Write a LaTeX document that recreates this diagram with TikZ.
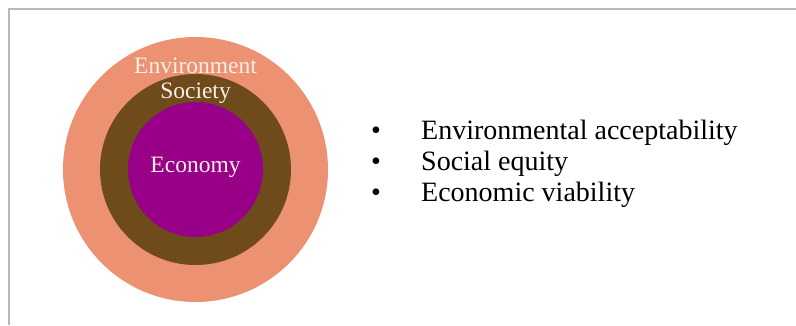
\documentclass[tikz,border=0pt]{standalone}
\usepackage{fontspec}
\setmainfont{Liberation Serif}
\definecolor{envc}{HTML}{EC9172}
\definecolor{socc}{HTML}{6F4A1A}
\definecolor{ecoc}{HTML}{980087}
\definecolor{labc}{HTML}{F8F0E6}
\definecolor{framec}{HTML}{B8B8B8}
\begin{document}
\begin{tikzpicture}[x=1pt,y=-1pt,
  ring/.style={circle,inner sep=0pt,draw=none},
  lab/.style={text=labc,font=\fontsize{23.5}{26}\selectfont,inner sep=0pt},
  bul/.style={anchor=base west,font=\fontsize{28}{31}\selectfont,inner sep=0pt}]
\useasboundingbox (0,0) rectangle (796,325);
\fill[white] (0,0) rectangle (796,325);
\draw[framec,line width=2.8pt] (9,325) -- (9,9) -- (796,9);
\node[ring,fill=envc,minimum size=265pt] (env) at (195.5,169.5) {};
\node[ring,fill=socc,minimum size=191pt] (soc) at (195.5,169.5) {};
\node[ring,fill=ecoc,minimum size=135pt] (eco) at (195.5,169.5) {};
\node[lab] (envl) at (195.5,66) {Environment};
\node[lab] (socl) at (195.5,93) {Society};
\node[lab] (ecol) at (195.5,167) {Economy};
\node[bul] (b1) at (371,139) {\textbullet};
\node[bul] (t1) at (421,139) {Environmental acceptability};
\node[bul] (b2) at (371,170) {\textbullet};
\node[bul] (t2) at (421,170) {Social equity};
\node[bul] (b3) at (371,201) {\textbullet};
\node[bul] (t3) at (421,201) {Economic viability};
\end{tikzpicture}
\end{document}
